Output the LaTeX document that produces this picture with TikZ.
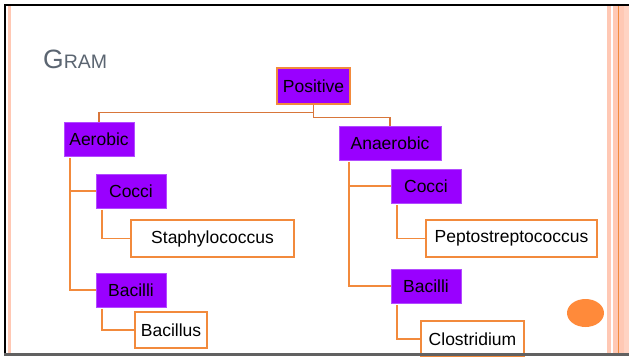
\documentclass[tikz,border=0pt]{standalone}
\usepackage{fontspec}
\setmainfont{Liberation Sans}
\usetikzlibrary{positioning}
\definecolor{boxpurple}{HTML}{9900FF}
\definecolor{purpleedge}{HTML}{B24CFF}
\definecolor{orangeline}{HTML}{F28A3C}
\definecolor{topline}{HTML}{D8763A}
\definecolor{stripe}{HTML}{FFC8B4}
\definecolor{dotorange}{HTML}{FF8A3A}
\definecolor{titlegrey}{HTML}{5B6571}
\begin{document}
\begin{tikzpicture}[x=1pt,y=-1pt,
  every node/.style={font=\fontsize{17.5pt}{20pt}\selectfont, inner sep=0pt},
  pbox/.style={fill=boxpurple, draw=purpleedge, line width=0.6pt, minimum height=34pt, text=black},
  wbox/.style={fill=white, draw=orangeline, line width=1.6pt, minimum height=37pt, text=black},
  conn/.style={draw=orangeline, line width=1.6pt},
  tconn/.style={draw=topline, line width=1.5pt}]
\useasboundingbox (0,0) rectangle (629,356);
\fill[white] (0,0) rectangle (629,356);

% title
\node[anchor=base west, text=titlegrey] (title) at (43,68) {{\fontsize{26.5pt}{30pt}\selectfont G}{\fontsize{19.5pt}{22pt}\selectfont RAM}};

% nodes
\node[pbox, minimum width=73pt, minimum height=36pt, draw=orangeline, line width=1.3pt] (pos) at (313.5,86) {Positive};
\node[pbox, minimum width=70pt] (aer) at (99,139) {Aerobic};
\node[pbox, minimum width=70pt] (ac) at (131,191) {Cocci};
\node[wbox, minimum width=163pt] (staph) at (212.5,238.5) {Staphylococcus};
\node[pbox, minimum width=70pt] (ab) at (131,290) {Bacilli};
\node[wbox, minimum width=72pt, minimum height=36pt] (bacillus) at (171,330) {Bacillus};

\node[pbox, minimum width=102pt] (ana) at (390,143) {Anaerobic};
\node[pbox, minimum width=70pt] (nc) at (426,186) {Cocci};
\node[wbox, minimum width=171pt] (pepto) at (511.5,238.5) {Peptostreptococcus};
\node[pbox, minimum width=70pt] (nb) at (426,286) {Bacilli};
\node[wbox, minimum width=103pt, minimum height=36pt] (clos) at (472.5,339) {Clostridium};

% connectors
\draw[tconn] (pos.south) -- ++(0,8) -| (aer.north);
\draw[tconn] (pos.south) -- ++(0,13) -| (ana.north);

\draw[conn] ([xshift=6pt,yshift=-2pt]aer.south west) |- (ac.west);
\draw[conn] ([xshift=6pt,yshift=-2pt]aer.south west) |- (ab.west);
\draw[conn] ([xshift=6pt,yshift=-1.5pt]ac.south west) |- (staph.west);
\draw[conn] ([xshift=6pt,yshift=-1.5pt]ab.south west) |- (bacillus.west);

\draw[conn] ([xshift=10pt,yshift=-2pt]ana.south west) |- (nc.west);
\draw[conn] ([xshift=10pt,yshift=-2pt]ana.south west) |- (nb.west);
\draw[conn] ([xshift=6pt,yshift=-2pt]nc.south west) |- (pepto.west);
\draw[conn] ([xshift=6pt,yshift=-2pt]nb.south west) |- (clos.west);

% orange dot
\fill[dotorange] (585.5,313) ellipse [x radius=18.5pt, y radius=14pt];

% decorative stripes
\fill[stripe] (8,6) rectangle (11,353);
\fill[stripe] (607,6) rectangle (610.5,353);
\fill[stripe] (613,6) rectangle (629,353);
\fill[orangeline] (618,6) rectangle (619.3,353);
\fill[stripe!80!white] (624,6) rectangle (629,353);

% frame
\fill[black] (4,4) rectangle (629,6.3);
\fill[black] (4,4) rectangle (6.3,356);
\fill[black!62] (4,353) rectangle (629,356);
\end{tikzpicture}
\end{document}
